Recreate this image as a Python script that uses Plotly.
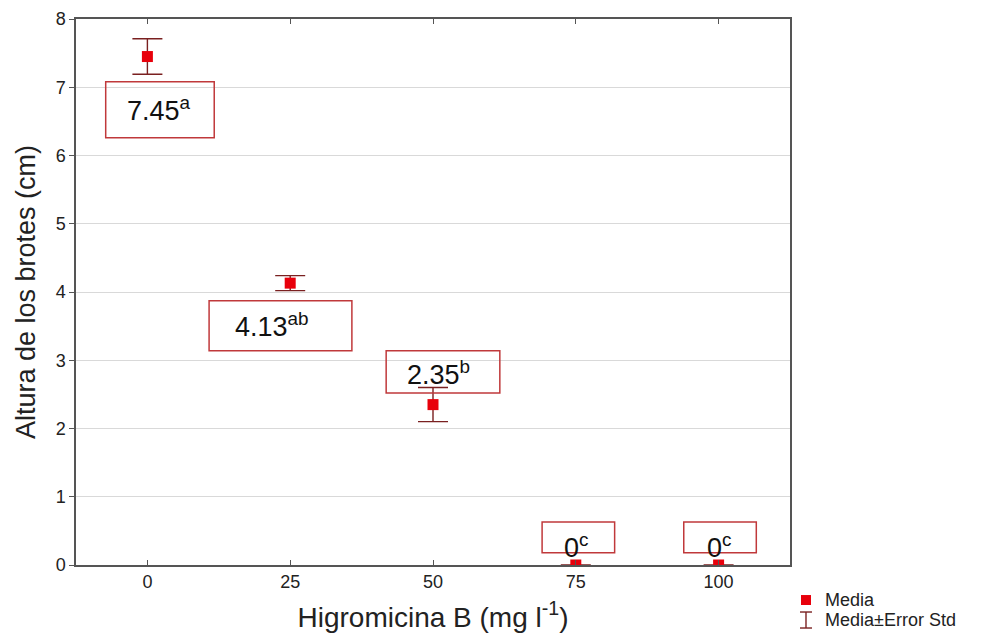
import plotly.graph_objects as go

dose = [0, 25, 50, 75, 100]
media = [7.45, 4.13, 2.35, 0, 0]
err_std = [0.26, 0.11, 0.25, 0, 0]
labels = ["7.45<sup>a</sup>", "4.13<sup>ab</sup>", "2.35<sup>b</sup>", "0<sup>c</sup>", "0<sup>c</sup>"]
x_ticks = [0, 25, 50, 75, 100]
y_ticks = [0, 1, 2, 3, 4, 5, 6, 7, 8]

# label box geometry (x0, x1, y0, y1) and text centre, in axis units
boxes = [(-7.3, 11.7, 6.26, 7.08), (10.8, 35.8, 3.14, 3.87), (41.8, 61.7, 2.52, 3.14),
         (69.1, 81.8, 0.18, 0.63), (93.9, 106.6, 0.18, 0.63)]
text_pos = [(2.0, 6.68), (21.8, 3.52), (51.0, 2.82), (75.0, 0.28), (100.0, 0.28)]

FONT = "Liberation Sans, Arial, sans-serif"
BOX_COL = "#c0393b"
ERR_COL = "#7a2020"
MARK_COL = "#e8000b"

fig = go.Figure()
fig.add_trace(go.Scatter(
    x=dose, y=media, mode="markers", name="Media", showlegend=False,
    marker=dict(symbol="square", size=11, color=MARK_COL),
    error_y=dict(type="data", array=err_std, visible=True, color=ERR_COL,
                 thickness=1.4, width=15),
))

shapes = []
annotations = []
for (x0, x1, y0, y1), (tx, ty), lab in zip(boxes, text_pos, labels):
    shapes.append(dict(type="rect", xref="x", yref="y", x0=x0, x1=x1, y0=y0, y1=y1,
                       line=dict(color=BOX_COL, width=1.5), fillcolor="rgba(255,255,255,0)", layer="above"))
    annotations.append(dict(x=tx, y=ty, xref="x", yref="y", text=lab, showarrow=False,
                            font=dict(family=FONT, size=27, color="#111")))

# manual legend (paper coordinates)
shapes += [
    dict(type="rect", xref="paper", yref="paper", x0=1.0154, x1=1.0294, y0=-0.0733, y1=-0.0550,
         line=dict(width=0), fillcolor=MARK_COL),
    dict(type="line", xref="paper", yref="paper", x0=1.0224, x1=1.0224, y0=-0.0861, y1=-0.1154,
         line=dict(color=ERR_COL, width=1.4)),
    dict(type="line", xref="paper", yref="paper", x0=1.0140, x1=1.0308, y0=-0.0861, y1=-0.0861,
         line=dict(color=ERR_COL, width=1.4)),
    dict(type="line", xref="paper", yref="paper", x0=1.0140, x1=1.0308, y0=-0.1154, y1=-0.1154,
         line=dict(color=ERR_COL, width=1.4)),
]
annotations += [
    dict(x=1.0462, y=-0.0641, xref="paper", yref="paper", xanchor="left", yanchor="middle",
         text="Media", showarrow=False, font=dict(family=FONT, size=18, color="#222")),
    dict(x=1.0462, y=-0.1007, xref="paper", yref="paper", xanchor="left", yanchor="middle",
         text="Media±Error Std", showarrow=False, font=dict(family=FONT, size=18, color="#222")),
]

fig.update_layout(
    width=983, height=627,
    margin=dict(l=68, r=201, t=11, b=70, autoexpand=False),
    paper_bgcolor="white", plot_bgcolor="white",
    font=dict(family=FONT, color="#222"),
    shapes=shapes, annotations=annotations,
    showlegend=False,
    xaxis=dict(range=[-12.5, 112.5], tickvals=x_ticks, ticktext=[str(v) for v in x_ticks],
               automargin=False,
               showgrid=False, zeroline=False, showline=True, linecolor="#555", linewidth=1.5,
               mirror="ticks", ticks="inside", ticklen=5, tickcolor="#555",
               tickfont=dict(size=18, color="#222"),
               title=dict(text="Higromicina B (mg l<sup>-1</sup>)", font=dict(size=28, color="#222"), standoff=16)),
    yaxis=dict(range=[0, 8], tickvals=y_ticks, automargin=False,
               showgrid=True, gridcolor="#d9d9d9", gridwidth=1,
               zeroline=False, showline=True, linecolor="#555", linewidth=1.5, mirror=True,
               ticks="outside", ticklen=5, tickcolor="#555",
               tickfont=dict(size=18, color="#222"),
               title=dict(text="Altura de los brotes (cm)", font=dict(size=27, color="#222"), standoff=12)),
)

fig.write_html("out.html")
